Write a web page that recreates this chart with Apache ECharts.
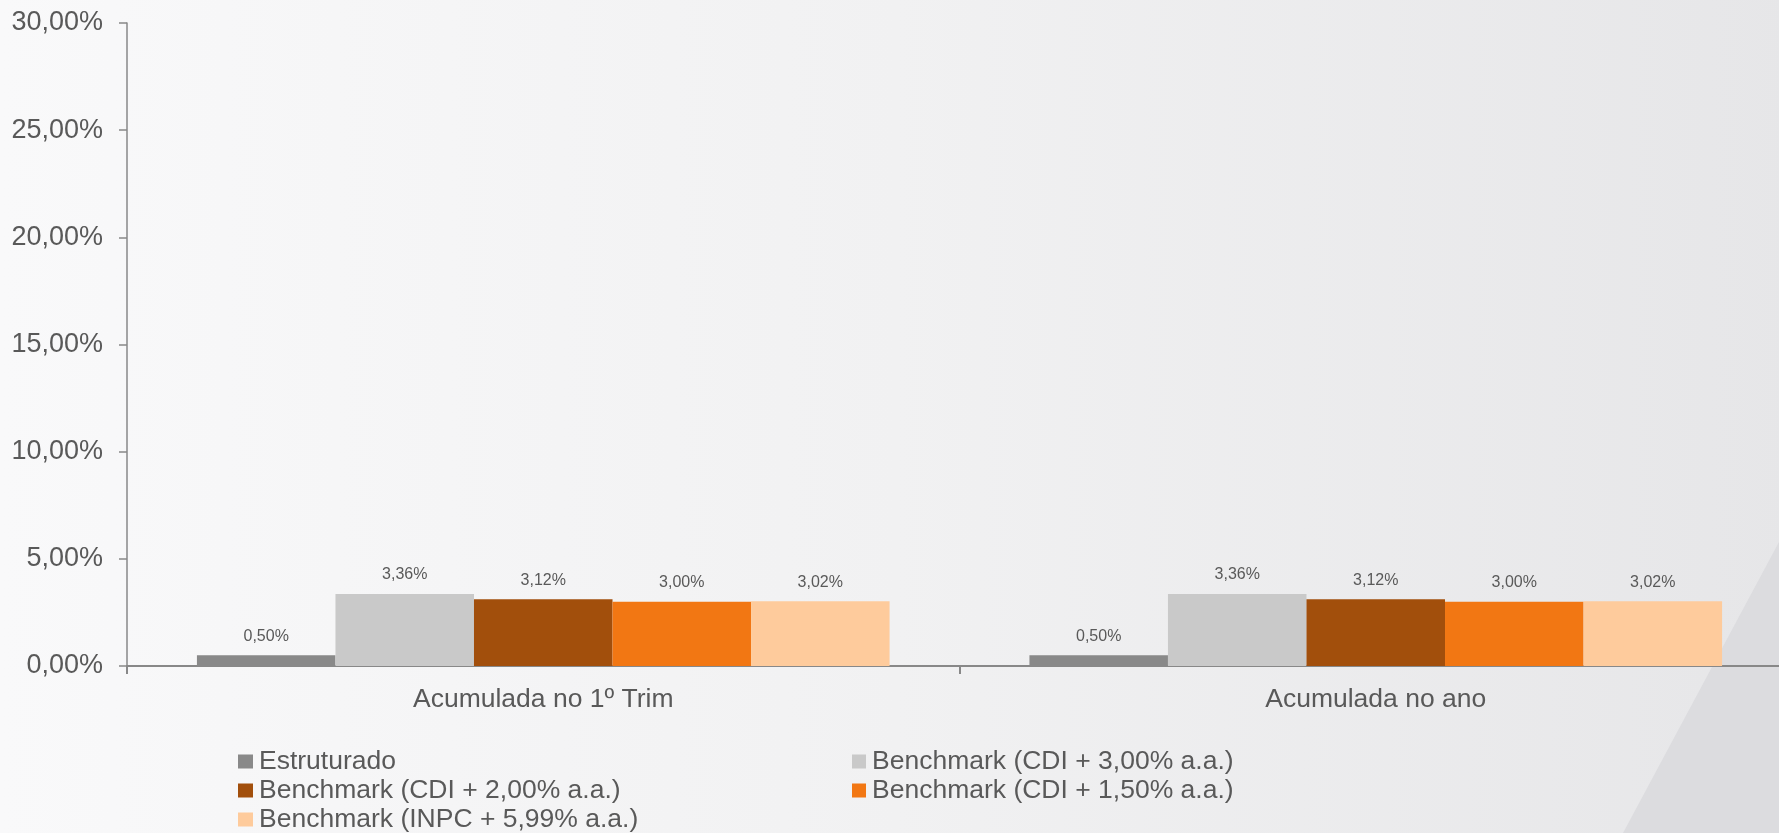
<!DOCTYPE html>
<html>
<head>
<meta charset="utf-8">
<script src="https://cdn.jsdelivr.net/npm/echarts@6/dist/echarts.min.js"></script>
<style>
html,body{margin:0;padding:0;background:#f3f3f4;overflow:hidden;width:1779px;height:833px;}
#chart{width:1792px;height:833px;}
</style>
</head>
<body>
<div id="chart"></div>
<script>
// ---- data ----
var categories = ['Acumulada no 1º Trim', 'Acumulada no ano'];
var seriesNames = [
  'Estruturado',
  'Benchmark (CDI + 3,00% a.a.)',
  'Benchmark (CDI + 2,00% a.a.)',
  'Benchmark (CDI + 1,50% a.a.)',
  'Benchmark (INPC + 5,99% a.a.)'
];
var estruturado = [0.50, 0.50];
var cdi300 = [3.36, 3.36];
var cdi200 = [3.12, 3.12];
var cdi150 = [3.00, 3.00];
var inpc599 = [3.02, 3.02];
var yTicks = [0, 5, 10, 15, 20, 25, 30];

var colors = ['#898989', '#c9c9c9', '#a24f0c', '#f27713', '#fecb9c'];
var allValues = [estruturado, cdi300, cdi200, cdi150, inpc599];

function fmt(v) { return Number(v).toFixed(2).replace('.', ',') + '%'; }

var FONT = '"Liberation Sans", Arial, sans-serif';
var TXT = '#595959';

var chart = echarts.init(document.getElementById('chart'), null, {renderer: 'canvas'});

var series = seriesNames.map(function (name, i) {
  return {
    name: name,
    type: 'bar',
    data: allValues[i],
    barGap: '0%',
    barCategoryGap: '16.8%',
    itemStyle: {color: colors[i]},
    label: {
      show: true,
      position: 'top',
      distance: 11,
      fontSize: 16,
      fontFamily: FONT,
      color: TXT,
      formatter: function (p) { return fmt(p.value); }
    }
  };
});

chart.setOption({
  animation: false,
  backgroundColor: new echarts.graphic.LinearGradient(0, 0, 1, 0, [
    {offset: 0, color: '#f9f9fa'},
    {offset: 0.5, color: '#f1f1f2'},
    {offset: 1, color: '#e6e6e8'}
  ]),
  textStyle: {fontFamily: FONT},
  graphic: [{
    type: 'polygon',
    z: -10,
    silent: true,
    shape: {points: [[1779, 542], [1623, 833], [1792, 833], [1792, 520]]},
    style: {fill: '#dcdcdf'}
  }],
  grid: {left: 127, top: 23, width: 1665, height: 643, containLabel: false},
  legend: [{
    orient: 'vertical',
    left: 238,
    top: 748,
    padding: 0,
    itemGap: 2,
    itemWidth: 15,
    itemHeight: 14,
    icon: 'rect',
    data: [seriesNames[0], seriesNames[2], seriesNames[4]],
    textStyle: {fontSize: 26.5, color: TXT, fontFamily: FONT, padding: [0, 0, 0, 1]}
  }, {
    orient: 'vertical',
    left: 852,
    top: 748,
    padding: 0,
    itemGap: 2,
    itemWidth: 14,
    itemHeight: 14,
    icon: 'rect',
    data: [seriesNames[1], seriesNames[3]],
    textStyle: {fontSize: 26.5, color: TXT, fontFamily: FONT, padding: [0, 0, 0, 1]}
  }],
  xAxis: {
    type: 'category',
    data: categories,
    axisLine: {lineStyle: {color: '#888888', width: 2}},
    axisTick: {show: true, length: 8, lineStyle: {color: '#888888', width: 2}},
    axisLabel: {fontSize: 26.5, color: TXT, fontFamily: FONT, margin: 20}
  },
  yAxis: {
    type: 'value',
    min: yTicks[0],
    max: yTicks[yTicks.length - 1],
    interval: yTicks[1] - yTicks[0],
    splitLine: {show: false},
    axisLine: {show: true, lineStyle: {color: '#888888', width: 1.5}},
    axisTick: {show: true, length: 8, lineStyle: {color: '#888888', width: 1.5}},
    axisLabel: {fontSize: 27, color: TXT, fontFamily: FONT, margin: 24,
      formatter: function (v) { return fmt(v); }}
  },
  series: series
});
</script>
</body>
</html>
